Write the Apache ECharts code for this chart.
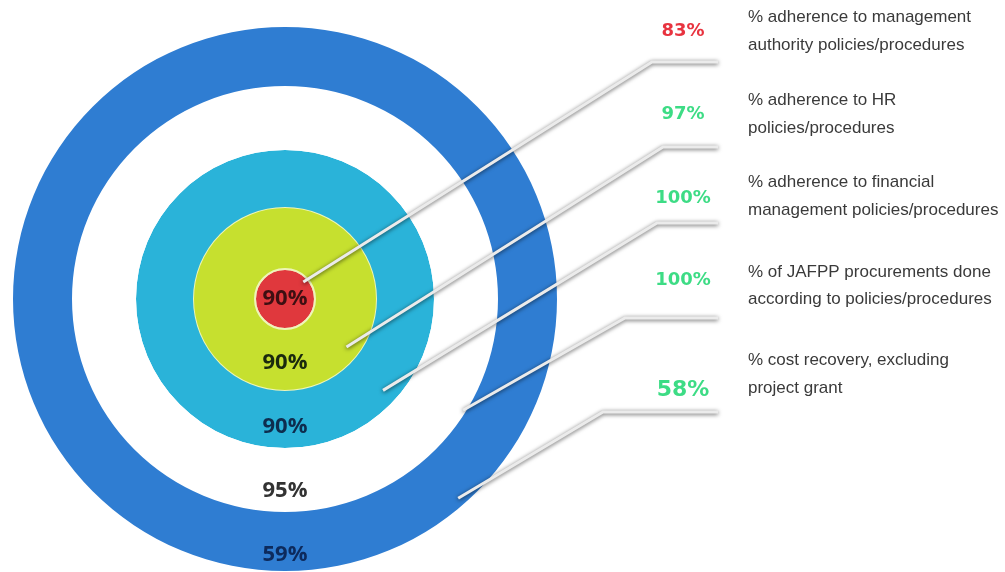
<!DOCTYPE html>
<html><head><meta charset="utf-8">
<script src="https://cdn.jsdelivr.net/npm/echarts@6/dist/echarts.min.js"></script>
<style>html,body{margin:0;padding:0;background:#fff;}#chart{width:1005px;height:572px;}</style>
</head><body><div id="chart"></div>
<script>
// ---- data ----
const ringNames = ['Centre', 'Ring 2', 'Ring 3', 'Ring 4', 'Ring 5'];
const ringValues = [90, 90, 90, 95, 59];
const kpiValues = [83, 97, 100, 100, 58];
const kpiLine1 = ['% adherence to management', '% adherence to HR', '% adherence to financial', '% of JAFPP procurements done', '% cost recovery, excluding'];
const kpiLine2 = ['authority policies/procedures', 'policies/procedures', 'management policies/procedures', 'according to policies/procedures', 'project grant'];

// ---- layout & style ----
const C = [285, 299];
const radii = [0, 30, 92, 149, 213, 272];
const ringColors = ['#e0383d', '#c6e02f', '#2ab3d9', '#ffffff', '#2f7dd2'];
const ringBorders = ['#f7dcc6', '#eef5b8', '#5cc3e0', '#ffffff', '#3a86d6'];
const ringBorderW = [2, 2, 0, 0, 0];
const ringTextColors = ['#3d0f12', '#1b2a0e', '#0e2d4e', '#333333', '#0d2a5c'];
const ringLabelDy = [0, 0, 4, 8, 10];
const kpiColors = ['#e8333f', '#3ddc85', '#3ddc85', '#3ddc85', '#3ddc85'];
const kpiFontSize = [18, 18, 18, 18, 22];
const kpiValueY = [31, 114, 198, 280, 390];
const kpiTextY = [[17, 45], [100, 128], [182, 210], [272, 299], [360, 388]];
const tipR = [25, 78, 134, 210, 264];
const tipAngle = [43, -38, -43, -32, -49];
const bendX = [652, 663, 657, 625, 603];
const bendY = [62, 147, 223, 318, 412];
const lineEndX = 718;

const series = ringValues.map((v, i) => ({
  type: 'pie',
  name: ringNames[i],
  center: C,
  radius: [radii[i], radii[i + 1]],
  silent: true,
  animation: false,
  startAngle: 90,
  itemStyle: { color: ringColors[i], borderColor: ringBorders[i], borderWidth: ringBorderW[i] },
  label: {
    show: true,
    position: i === 0 ? 'center' : 'inside',
    formatter: '{c}%',
    fontFamily: 'Open Sans',
    fontWeight: 'bold',
    fontSize: 22,
    color: ringTextColors[i]
  },
  labelLayout: { dy: ringLabelDy[i] },
  labelLine: { show: false },
  emphasis: { disabled: true },
  data: [{ name: ringNames[i], value: v }]
}));

const graphics = [];
kpiValues.forEach((v, i) => {
  const a = tipAngle[i] * Math.PI / 180;
  const tip = [C[0] + tipR[i] * Math.cos(a), C[1] - tipR[i] * Math.sin(a)];
  graphics.push({
    type: 'polyline', z: 100, silent: true,
    shape: { points: [tip, [bendX[i], bendY[i]], [lineEndX, bendY[i]]] },
    style: { stroke: '#ebebeb', lineWidth: 3, fill: null, shadowBlur: 4, shadowColor: 'rgba(0,0,0,0.65)', shadowOffsetY: 1 }
  });
  graphics.push({
    type: 'text', z: 100, silent: true,
    style: { x: 683, y: kpiValueY[i], text: v + '%', fill: kpiColors[i], font: 'bold ' + kpiFontSize[i] + 'px "DejaVu Sans"', align: 'center', verticalAlign: 'middle' }
  });
  [kpiLine1[i], kpiLine2[i]].forEach((t, k) => {
    graphics.push({
      type: 'text', z: 100, silent: true,
      style: { x: 748, y: kpiTextY[i][k], text: t, fill: '#3a3a3a', font: '17px "Liberation Sans"', align: 'left', verticalAlign: 'middle' }
    });
  });
});

const chart = echarts.init(document.getElementById('chart'));
chart.setOption({
  backgroundColor: '#ffffff',
  animation: false,
  series: series,
  graphic: graphics
});
</script>
</body></html>
